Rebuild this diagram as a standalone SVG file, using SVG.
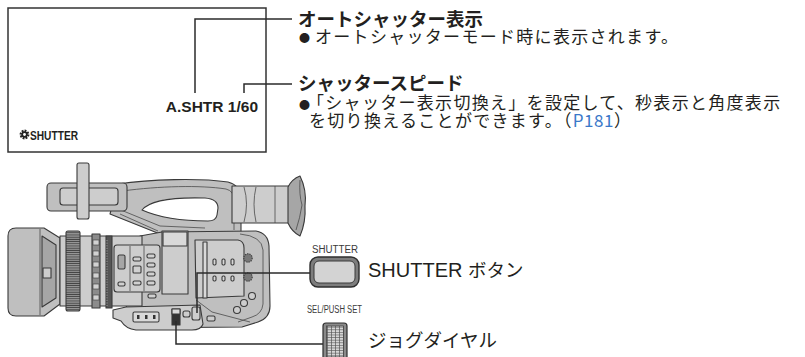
<svg xmlns="http://www.w3.org/2000/svg" width="805" height="357" viewBox="0 0 805 357">
  <style>
    .jp { font-family: "Noto Sans CJK JP", "Noto Sans", sans-serif; fill: #231f20; }
    .ttl { font-size: 18.5px; font-weight: bold; }
    .body { font-size: 17px; letter-spacing: 1.3px; }
    .big { font-size: 18.5px; }
    .lat { font-family: "Liberation Sans", Arial, sans-serif; fill: #231f20; }
    .small { font-family: "Liberation Sans", Arial, sans-serif; font-size: 10px; fill: #3a3a3a; }
    .lead { fill: none; stroke: #2b2b2b; stroke-width: 1.5; }
    .cam { stroke: #3a3a3a; stroke-width: 1.1; stroke-linejoin: round; }
    .g1 { fill: #bfbfbf; }
    .g2 { fill: #cdcdcd; }
    .g3 { fill: #a6a6a6; }
    .g4 { fill: #8c8c8c; }
    .g5 { fill: #d9d9d9; }
    .thin { fill: none; stroke: #4a4a4a; stroke-width: 0.8; }
    .link { fill: #3a78c9; }
  </style>
  <defs>
    <pattern id="knurl" width="4" height="2.2" patternUnits="userSpaceOnUse">
      <rect width="4" height="2.2" fill="#9a9a9a"/>
      <rect y="1.3" width="4" height="0.9" fill="#3e3e3e"/>
    </pattern>
    <pattern id="grid" width="4" height="2.6" patternUnits="userSpaceOnUse">
      <rect width="4" height="2.6" fill="#d6d6d6"/>
      <rect x="3.3" width="0.7" height="2.6" fill="#555"/>
      <rect y="2" width="4" height="0.6" fill="#555"/>
    </pattern>
  </defs>

  <!-- viewfinder screen -->
  <g id="screen">
    <rect x="8" y="8" width="258" height="144" fill="#fff" stroke="#333" stroke-width="1.5"/>
    <text class="lat" x="258" y="112" font-size="15.5" font-weight="bold" text-anchor="end">A.SHTR 1/60</text>
    <g id="gear-icon" transform="translate(24.5,134.5)">
      <circle r="3.6" fill="none" stroke="#222" stroke-width="2.6" stroke-dasharray="1.7 1.07"/>
      <circle r="3.2" fill="#222"/>
      <circle r="1.4" fill="#fff"/>
    </g>
    <text class="lat" x="30" y="140" font-size="13" font-weight="bold" textLength="48" lengthAdjust="spacingAndGlyphs">SHUTTER</text>
  </g>

  <!-- camcorder body -->
  <g id="camera">
    <!-- carry handle with grip opening -->
    <path class="cam g1" d="M118,184 C150,179 200,178 228,182 Q240,185 241,197 L241,233 L165,236 L110,214 Z"/>
    <path class="cam" fill="#fff" d="M142,210 C150,200 172,197 205,198 Q218,199 218,208 L217,215 Q216,221 208,221 C185,221 160,218 142,210 Z"/>
    <path class="thin" d="M122,191 C160,186 200,185 226,189 Q234,191 234,200 L234,230"/>
    <path class="thin" d="M116,208 L160,226 L205,228"/>
    <path class="thin" d="M120,214 L158,231"/>

    <!-- eyepiece -->
    <rect class="cam g2" x="232" y="186" width="58" height="37"/>
    <path class="thin" d="M244,187 Q249,204 244,222 M256,187 Q252,204 256,222 M275,186 L275,223"/>
    <path class="cam g3" d="M288,187 Q292,179 300,176 Q307,190 305,206 Q306,222 300,236 Q292,232 288,223 Z"/>
    <path class="thin" d="M300,180 Q299,195 302,205 Q300,218 296,230"/>

    <!-- top handle front block -->
    <rect class="cam g1" x="47" y="183" width="80" height="28" rx="4"/>
    <rect class="cam g2" x="60" y="188" width="58" height="17" rx="3"/>
    <rect class="cam g2" x="77" y="163" width="12" height="56" rx="2"/>

    <!-- main body -->
    <path class="cam g1" d="M140,236 L162,232 L256,231 Q268,233 269,246 L270,306 Q270,318 258,322 L242,327 L130,328 L126,318 L128,262 Z"/>
    <path class="thin" d="M240,234 Q262,236 263,250 L263,304 Q262,314 252,317 L238,322"/>
    <path class="thin" d="M196,300 L212,312 L250,322"/>

    <!-- lens hood -->
    <path class="cam g1" d="M8,236 Q8,228 16,228 L44,228 L60,238 L60,304 L44,316 L16,316 Q8,316 8,308 Z"/>
    <path class="cam g3" d="M42,236 L56,245 L56,298 L42,307 Z"/>
    <path class="thin" d="M40,229 L40,315"/>
    <rect class="cam g2" x="43" y="268" width="8" height="10"/>

    <!-- lens barrel and rings -->
    <rect class="cam g2" x="60" y="236" width="82" height="70"/>
    <rect class="cam" fill="url(#knurl)" x="66" y="231" width="14" height="80" rx="2"/>
    <rect class="cam g4" x="92" y="234" width="8" height="74"/>
    <g fill="#d2d2d2" stroke="#3a3a3a" stroke-width="0.6">
      <rect x="93" y="240" width="6" height="5"/><rect x="93" y="251" width="6" height="5"/>
      <rect x="93" y="262" width="6" height="5"/><rect x="93" y="273" width="6" height="5"/>
      <rect x="93" y="284" width="6" height="5"/><rect x="93" y="295" width="6" height="5"/>
    </g>
    <rect class="cam" fill="#555" x="106" y="236" width="6" height="72"/>
    <path d="M107,240 V306" stroke="#999" stroke-width="1" stroke-dasharray="1.2 1.4"/>

    <!-- side control panel -->
    <rect class="cam g2" x="114" y="245" width="46" height="47" rx="3"/>
    <path class="thin" d="M130,246 V291 M144,246 V291"/>
    <rect class="cam g3" x="118" y="255" width="7" height="14" rx="1.5"/>
    <g class="cam" fill="#d0d0d0" stroke-width="0.8">
      <rect x="118" y="282" width="7" height="4" rx="1.5"/>
      <rect x="133" y="257" width="8" height="4" rx="1.5"/>
      <rect x="133" y="266" width="8" height="7" rx="1"/>
      <rect x="133" y="281" width="8" height="4" rx="1.5"/>
      <rect x="147" y="254" width="8" height="4" rx="1.5"/>
      <rect x="147" y="263" width="8" height="4" rx="1.5"/>
      <rect x="147" y="272" width="8" height="4" rx="1.5"/>
      <rect x="147" y="281" width="8" height="4" rx="1.5"/>
      <rect x="148" y="294" width="8" height="4" rx="1.5"/>
    </g>

    <!-- raised mid block -->
    <rect class="cam g2" x="162" y="231" width="26" height="63"/>
    <rect class="cam g5" x="163" y="232" width="24" height="14"/>

    <!-- side panel with switches -->
    <path class="cam g2" d="M195,240 L238,240 Q244,241 244,248 L244,296 L196,298 Z"/>
    <rect class="cam g5" x="203" y="242" width="4" height="56"/>
    <g class="cam" fill="#d8d8d8" stroke-width="0.7">
      <rect x="213" y="259" width="3" height="6" rx="1.2"/>
      <rect x="222" y="259" width="3" height="6" rx="1.2"/>
      <rect x="231" y="259" width="3" height="6" rx="1.2"/>
      <rect x="213" y="276" width="3" height="5" rx="1.2"/>
      <rect x="222" y="276" width="3" height="5" rx="1.2"/>
      <rect x="231" y="276" width="3" height="5" rx="1.2"/>
    </g>
    <g class="cam" fill="#777" stroke-width="0.8">
      <circle cx="248" cy="258" r="4.2" stroke-dasharray="1.3 1"/>
      <circle cx="248" cy="277" r="4.2" stroke-dasharray="1.3 1"/>
    </g>
    <g class="cam g2">
      <circle cx="237" cy="310" r="3.5"/>
      <circle cx="244" cy="303" r="3.5"/>
      <circle cx="252" cy="296" r="3.5"/>
    </g>

    <!-- lower grip with switches -->
    <path class="cam g2" d="M126,307 L200,305 L203,324 Q201,330 192,330 L136,330 Q126,329 121,321 L113,318 L113,310 Z"/>
    <rect class="cam g5" x="133" y="312" width="26" height="10" rx="1.5"/>
    <g fill="#333">
      <rect x="137" y="315" width="2.5" height="4"/><rect x="145" y="315" width="2.5" height="4"/><rect x="153" y="315" width="2.5" height="4"/>
    </g>
    <rect class="cam" fill="#333" x="172" y="309" width="8" height="16"/>
    <rect class="cam g5" x="172" y="309" width="8" height="5"/>
    <rect class="cam g2" x="183" y="311" width="7" height="6" rx="2"/>
    <rect class="cam g2" x="192" y="307" width="8" height="13" rx="2"/>
    <rect class="cam g2" x="207" y="316" width="8" height="5" rx="1.5"/>
  </g>

  <!-- SHUTTER button -->
  <g id="shutter-button">
    <text class="small" x="312" y="253" textLength="46" lengthAdjust="spacingAndGlyphs">SHUTTER</text>
    <rect x="310" y="257" width="49" height="30" rx="8" fill="#7d7d7d" stroke="#2e2e2e" stroke-width="1.4"/>
    <rect x="314" y="261" width="41" height="22" rx="5" fill="#d3d3d3" stroke="#3a3a3a" stroke-width="1"/>
    <text x="368" y="277"><tspan class="lat" font-size="20">SHUTTER </tspan><tspan class="jp big">ボタン</tspan></text>
  </g>

  <!-- jog dial -->
  <g id="jog-dial">
    <text class="small" x="307" y="313" textLength="55" lengthAdjust="spacingAndGlyphs">SEL/PUSH SET</text>
    <rect x="323" y="323" width="24" height="40" rx="3" fill="#8a8a8a" stroke="#2e2e2e" stroke-width="1.2"/>
    <rect x="326.5" y="326" width="17" height="31" fill="url(#grid)" stroke="#444" stroke-width="0.8"/>
    <text class="jp big" x="368" y="347">ジョグダイヤル</text>
  </g>

  <!-- callout texts -->
  <g id="auto-shutter-label">
    <text class="jp ttl" x="298" y="26">オートシャッター表示</text>
    <text class="jp" x="299" y="42" font-size="11">●</text>
    <text class="jp body" x="315" y="43">オートシャッターモード時に表示されます。</text>
  </g>
  <g id="shutter-speed-label">
    <text class="jp ttl" x="298" y="90">シャッタースピード</text>
    <text class="jp" x="299" y="109" font-size="11">●</text>
    <text class="jp body" x="307" y="109" letter-spacing="1.1">「シャッター表示切換え」を設定して、秒表示と角度表示</text>
    <text class="jp body" x="309" y="127">を切り換えることができます。（<tspan class="link" letter-spacing="0.5">P181</tspan>）</text>
  </g>

  <!-- leader lines -->
  <g id="connectors">
    <path class="lead" d="M195,93 V19 H292"/>
    <path class="lead" d="M244,93 V84 H292"/>
    <path class="lead" d="M197,313 V273 H310"/>
    <path class="lead" d="M176,321 V344 H323"/>
  </g>
</svg>
